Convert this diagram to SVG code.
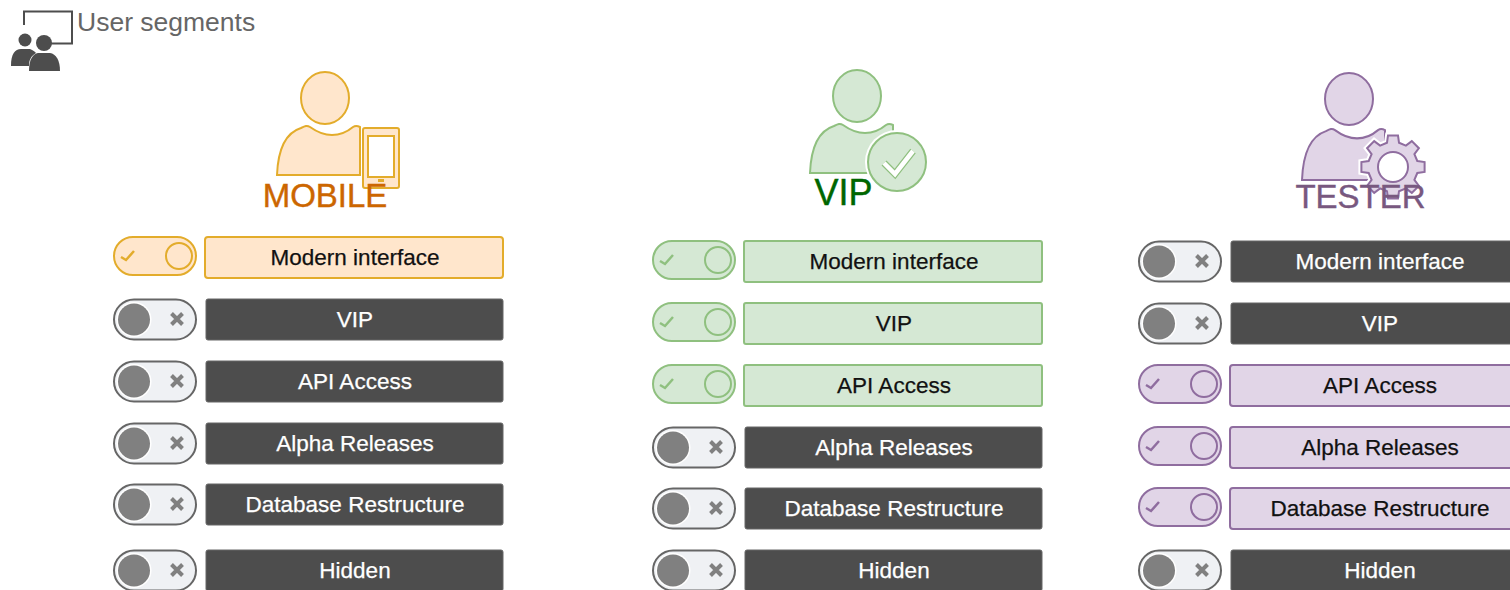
<svg xmlns="http://www.w3.org/2000/svg" width="1510" height="590" viewBox="0 0 1510 590">
<style>
text{font-family:"Liberation Sans",Arial,sans-serif}
.l{font-size:22.5px;text-anchor:middle;stroke-width:.25px}
.d{fill:#fff;stroke:#fff}.k{fill:#111;stroke:#111}
.h{font-size:33px;text-anchor:middle;stroke-width:.4px}
rect.off{fill:#4d4d4d;stroke:#666;stroke-width:1}
.po{fill:#ffe6cc;stroke:#e3ac2b;stroke-width:2}
.pg{fill:#d5e8d4;stroke:#8fc07f;stroke-width:2}
.pp{fill:#e1d5e7;stroke:#8f6d9f;stroke-width:2}
</style>
<defs>
<g id="tOff"><rect x="1" y="0.500" width="82" height="40" rx="20" fill="#eff1f4" stroke="#666" stroke-width="2"/><circle cx="21" cy="20.500" r="17.500" fill="#fff"/><circle cx="21" cy="20.500" r="16" fill="#808080"/><path d="M58.500 14.500l11 11m0-11l-11 11" stroke="#808080" stroke-width="4" fill="none"/></g>
<g id="tOn"><rect x="1" y="0" width="82" height="38" rx="19" stroke-width="2"/><circle cx="66" cy="19" r="13" fill="none"/><path d="M8 20l5 3l8-9" fill="none" stroke-width="2.500"/></g>
<path id="body" d="M0 50C1 25 8 8 24 3C28 1 30 0 33 2C40 7 47 10 55 10C63 10 70 7 76 2C79 0 81 1 83 2L83 50Z"/>
<path id="gear" fill-rule="evenodd" d="M24.300-6L31.600-5L31.600 5L24.300 6L21.400 12.900L25.900 18.800L18.800 25.900L12.900 21.400L6 24.300L5 31.600L-5 31.600L-6 24.300L-12.900 21.400L-18.800 25.900L-25.900 18.800L-21.400 12.900L-24.300 6L-31.600 5L-31.600-5L-24.300-6L-21.400-12.900L-25.900-18.800L-18.800-25.900L-12.900-21.400L-6-24.300L-5-31.600L5-31.600L6-24.300L12.900-21.400L18.800-25.900L25.900-18.800L21.400-12.900Z"/>
</defs>
<g id="title">
<path d="M24 25V11.500H72V43.500H50" fill="none" stroke="#4d4d4d" stroke-width="2"/>
<circle cx="25" cy="40" r="6.500" fill="#4d4d4d"/><circle cx="44" cy="43" r="8" fill="#4d4d4d"/>
<path d="M11 66C11 54 15 49 21 49L30 49C33 50 35 52 36 53C31 56 29 60 29 66Z" fill="#4d4d4d"/>
<path d="M29 71C29 59 33 54 38 53L50 53C56 54 60 60 60 71Z" fill="#4d4d4d"/>
<text x="77" y="30.500" font-size="26.500" fill="#666">User segments</text>
</g>
<g id="mobile-user">
<ellipse class="po" cx="325" cy="98" rx="24" ry="26"/>
<use href="#body" class="po" transform="translate(277 125)"/>
<rect x="363" y="128" width="36" height="60" rx="2" class="po"/>
<rect x="368" y="136" width="26" height="41" fill="#fff" stroke="#e3ac2b" stroke-width="2"/>
<rect x="378" y="179" width="6" height="3" fill="#e3ac2b"/>
<text class="h" x="325" y="207" fill="#cc6600" stroke="#cc6600">MOBILE</text>
</g>
<g id="vip-user">
<ellipse class="pg" cx="857" cy="96" rx="24" ry="26"/>
<use href="#body" class="pg" transform="translate(810 123)"/>
<circle cx="897" cy="162" r="32" fill="#fff"/>
<circle cx="897" cy="162" r="29" class="pg"/>
<path d="M884 163L895 174L913 151" fill="none" stroke="#8fc07f" stroke-width="7"/>
<path d="M884 163L895 174L913 151" fill="none" stroke="#fff" stroke-width="4.500"/>
<text class="h" x="843.500" y="205" fill="#006600" stroke="#006600" style="font-size:36px">VIP</text>
</g>
<g id="tester-user">
<ellipse class="pp" cx="1349" cy="99" rx="24" ry="26"/>
<use href="#body" class="pp" transform="translate(1302 128) scale(1 1.04)"/>
<use href="#gear" fill="#fff" stroke="#fff" stroke-width="6" transform="translate(1393 167)"/>
<use href="#gear" class="pp" transform="translate(1393 167)"/>
<circle cx="1393" cy="167" r="15" fill="#fff" stroke="#8f6d9f" stroke-width="2"/>
<text class="h" x="1360.500" y="208" fill="#78587f" stroke="#78587f">TESTER</text>
</g>
<g id="mobile-flags">
<g id="m1"><use href="#tOn" class="po" x="113" y="237"/><rect x="205" y="237" width="298" height="41" rx="3" class="po"/><text class="l k" x="355" y="265">Modern interface</text></g>
<g id="m2"><use href="#tOff" x="113" y="299"/><rect x="206" y="299" width="297" height="41" rx="2" class="off"/><text class="l d" x="355" y="326.500">VIP</text></g>
<g id="m3"><use href="#tOff" x="113" y="361"/><rect x="206" y="361" width="297" height="41" rx="2" class="off"/><text class="l d" x="355" y="388.500">API Access</text></g>
<g id="m4"><use href="#tOff" x="113" y="423"/><rect x="206" y="423" width="297" height="41" rx="2" class="off"/><text class="l d" x="355" y="450.500">Alpha Releases</text></g>
<g id="m5"><use href="#tOff" x="113" y="484"/><rect x="206" y="484" width="297" height="41" rx="2" class="off"/><text class="l d" x="355" y="512">Database Restructure</text></g>
<g id="m6"><use href="#tOff" x="113" y="550"/><rect x="206" y="550" width="297" height="41" rx="2" class="off"/><text class="l d" x="355" y="577.500">Hidden</text></g>
</g>
<g id="vip-flags">
<g id="v1"><use href="#tOn" class="pg" x="652" y="241"/><rect x="744" y="241" width="298" height="41" rx="2" class="pg"/><text class="l k" x="894" y="269">Modern interface</text></g>
<g id="v2"><use href="#tOn" class="pg" x="652" y="303"/><rect x="744" y="303" width="298" height="41" rx="2" class="pg"/><text class="l k" x="894" y="330.500">VIP</text></g>
<g id="v3"><use href="#tOn" class="pg" x="652" y="365"/><rect x="744" y="365" width="298" height="41" rx="2" class="pg"/><text class="l k" x="894" y="392.500">API Access</text></g>
<g id="v4"><use href="#tOff" x="652" y="427"/><rect x="745" y="427" width="297" height="41" rx="2" class="off"/><text class="l d" x="894" y="454.500">Alpha Releases</text></g>
<g id="v5"><use href="#tOff" x="652" y="488"/><rect x="745" y="488" width="297" height="41" rx="2" class="off"/><text class="l d" x="894" y="516">Database Restructure</text></g>
<g id="v6"><use href="#tOff" x="652" y="550"/><rect x="745" y="550" width="297" height="41" rx="2" class="off"/><text class="l d" x="894" y="577.500">Hidden</text></g>
</g>
<g id="tester-flags">
<g id="t1"><use href="#tOff" x="1138" y="241"/><rect x="1231" y="241" width="297" height="41" rx="2" class="off"/><text class="l d" x="1380" y="269">Modern interface</text></g>
<g id="t2"><use href="#tOff" x="1138" y="303"/><rect x="1231" y="303" width="297" height="41" rx="2" class="off"/><text class="l d" x="1380" y="330.500">VIP</text></g>
<g id="t3"><use href="#tOn" class="pp" x="1138" y="365"/><rect x="1230" y="365" width="298" height="41" rx="3" class="pp"/><text class="l k" x="1380" y="392.500">API Access</text></g>
<g id="t4"><use href="#tOn" class="pp" x="1138" y="427"/><rect x="1230" y="427" width="298" height="41" rx="3" class="pp"/><text class="l k" x="1380" y="454.500">Alpha Releases</text></g>
<g id="t5"><use href="#tOn" class="pp" x="1138" y="488"/><rect x="1230" y="488" width="298" height="41" rx="3" class="pp"/><text class="l k" x="1380" y="516">Database Restructure</text></g>
<g id="t6"><use href="#tOff" x="1138" y="550"/><rect x="1231" y="550" width="297" height="41" rx="2" class="off"/><text class="l d" x="1380" y="577.500">Hidden</text></g>
</g>
<g id="connectors"/>
</svg>
